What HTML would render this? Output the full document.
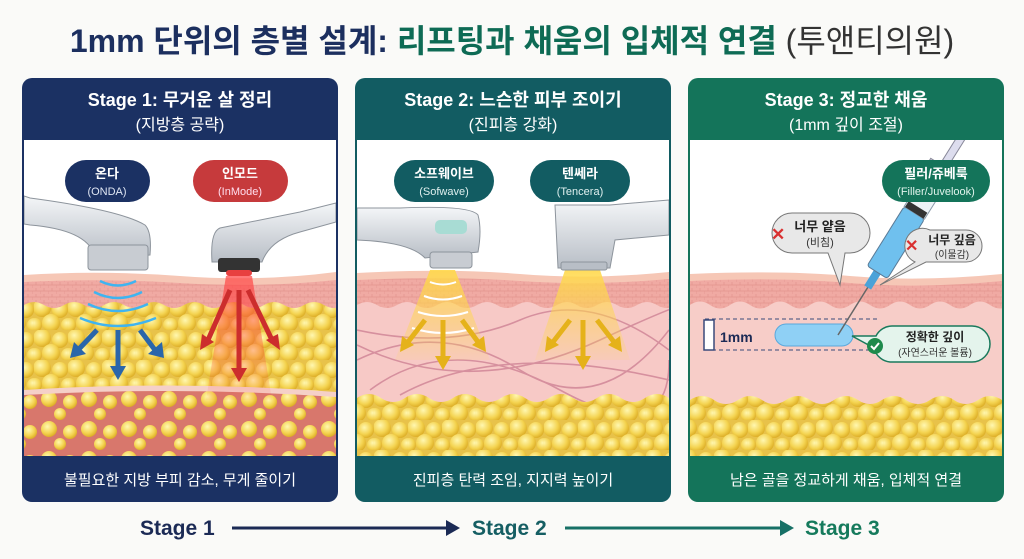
<!DOCTYPE html>
<html><head><meta charset="utf-8"><style>
html,body{margin:0;padding:0;background:#fafaf8;}
svg{display:block}
text{font-family:"Liberation Sans","Noto Sans CJK KR",sans-serif;}
</style></head><body>
<svg width="1024" height="559" viewBox="0 0 1024 559" xmlns="http://www.w3.org/2000/svg">
<defs>
<radialGradient id="fg" cx="0.4" cy="0.35" r="0.7"><stop offset="0" stop-color="#fff7b0"/><stop offset="0.6" stop-color="#f4d350"/><stop offset="1" stop-color="#d9a820"/></radialGradient>
<pattern id="fat" width="34" height="30" patternUnits="userSpaceOnUse">
<rect width="34" height="30" fill="#e8c24a"/>
<circle cx="8" cy="8" r="9" fill="url(#fg)"/><circle cx="26" cy="10" r="8" fill="url(#fg)"/><circle cx="17" cy="23" r="9" fill="url(#fg)"/><circle cx="1" cy="25" r="7" fill="url(#fg)"/><circle cx="34" cy="25" r="7" fill="url(#fg)"/>
</pattern>
<pattern id="fat2" width="40" height="30" patternUnits="userSpaceOnUse">
<rect width="40" height="30" fill="#d8776c"/>
<circle cx="9" cy="9" r="8" fill="url(#fg)"/><circle cx="30" cy="12" r="7" fill="url(#fg)"/><circle cx="20" cy="24" r="6" fill="url(#fg)"/>
</pattern>
<pattern id="cell" width="8" height="6" patternUnits="userSpaceOnUse"><rect width="8" height="6" fill="#f0aaa3"/><path d="M0 3h8M4 0v3M0 3v3" stroke="#e3958e" stroke-width="0.7"/></pattern>
<linearGradient id="dev" x1="0" y1="0" x2="0" y2="1"><stop offset="0" stop-color="#f4f6f8"/><stop offset="1" stop-color="#b8bec6"/></linearGradient>
<linearGradient id="beamY" x1="0" y1="0" x2="0" y2="1"><stop offset="0" stop-color="#ffd84a" stop-opacity="0.9"/><stop offset="1" stop-color="#ffd84a" stop-opacity="0.1"/></linearGradient>
<linearGradient id="beamR" x1="0" y1="0" x2="0" y2="1"><stop offset="0" stop-color="#ff4040" stop-opacity="0.7"/><stop offset="1" stop-color="#ff4040" stop-opacity="0.05"/></linearGradient>
<clipPath id="c1"><rect x="24" y="140" width="312" height="316"/></clipPath>
<clipPath id="c2"><rect x="357" y="140" width="312" height="316"/></clipPath>
<clipPath id="c3"><rect x="690" y="140" width="312" height="316"/></clipPath>
</defs>

<text x="512" y="52" text-anchor="middle" font-size="32" font-weight="bold"><tspan fill="#1c2f5f">1mm 단위의 층별 설계: </tspan><tspan fill="#0e6b55">리프팅과 채움의 입체적 연결 </tspan><tspan fill="#333" font-weight="normal">(투앤티의원)</tspan></text>

<!-- Panel 1 -->
<rect x="22" y="78" width="316" height="424" rx="10" fill="#1b3163"/>
<rect x="24" y="140" width="312" height="316" fill="#fff"/>
<g clip-path="url(#c1)">
<path d="M24 275 Q100 270 180 276 T336 272 V460 H24Z" fill="#f6c7b6"/>
<path d="M24 282 Q100 278 180 283 T336 280 V460 H24Z" fill="url(#cell)"/>
<path d="M24 305 q10 -6 20 0 t20 0 t20 0 t20 0 t20 0 t20 0 t20 0 t20 0 t20 0 t20 0 t20 0 t20 0 t20 0 t20 0 t20 0 t20 0 V460 H24Z" fill="url(#fat)"/>
<path d="M24 390 Q180 380 336 392 V460 H24Z" fill="#f5d0c8"/>
<path d="M24 395 Q180 386 336 397 V460 H24Z" fill="url(#fat2)"/>
<path d="M24 196 L30 198 Q120 210 145 225 Q152 232 150 255 L95 258 Q90 230 30 225 L24 224Z" fill="url(#dev)" stroke="#8d949c"/>
<rect x="88" y="245" width="60" height="25" rx="3" fill="#c8ccd2" stroke="#8d949c"/>
<g fill="none" stroke="#3fb4f0" stroke-width="2.5"><path d="M100 281 Q118 290 136 281"/><path d="M94 292 Q118 304 142 292"/><path d="M88 304 Q118 318 148 304"/><path d="M80 318 Q118 334 156 318"/></g>
<g stroke="#2a66aa" stroke-width="5" fill="#2a66aa"><line x1="97" y1="330" x2="78" y2="350"/><line x1="118" y1="330" x2="118" y2="370"/><line x1="140" y1="330" x2="155" y2="350"/></g>
<g fill="#2a66aa"><path d="M70 358 l4 -16 12 12z"/><path d="M110 366 h16 l-8 14z"/><path d="M148 354 l14 -12 2 16z"/></g>
<path d="M336 203 L300 212 Q250 222 220 228 Q210 232 212 262 L262 262 Q270 240 300 232 L336 222Z" fill="url(#dev)" stroke="#8d949c"/>
<rect x="218" y="258" width="42" height="14" rx="3" fill="#333"/>
<rect x="226" y="270" width="26" height="6" rx="3" fill="#e84040"/>
<path d="M226 276 L206 400 L272 400 L252 276Z" fill="url(#beamR)"/>
<g stroke="#cc2d2d" stroke-width="5"><line x1="230" y1="290" x2="208" y2="340"/><line x1="239" y1="290" x2="239" y2="370"/><line x1="248" y1="290" x2="272" y2="340"/></g>
<g fill="#cc2d2d"><path d="M200 350 l2 -16 12 8z"/><path d="M231 368 h16 l-8 14z"/><path d="M266 340 l12 -6 2 16z"/></g>
</g>
<rect x="65" y="160" width="85" height="42" rx="21" fill="#1b3163"/>
<text x="107" y="178" text-anchor="middle" font-size="13" font-weight="bold" fill="#fff">온다</text>
<text x="107" y="195" text-anchor="middle" font-size="11" fill="#dfe6f3">(ONDA)</text>
<rect x="193" y="160" width="95" height="42" rx="21" fill="#c63a3c"/>
<text x="240" y="178" text-anchor="middle" font-size="13" font-weight="bold" fill="#fff">인모드</text>
<text x="240" y="195" text-anchor="middle" font-size="11" fill="#fde">(InMode)</text>
<text x="180" y="106" text-anchor="middle" font-size="18" font-weight="bold" fill="#fff">Stage 1: 무거운 살 정리</text>
<text x="180" y="130" text-anchor="middle" font-size="16" fill="#fff">(지방층 공략)</text>
<text x="180" y="485" text-anchor="middle" font-size="15" fill="#fff">불필요한 지방 부피 감소, 무게 줄이기</text>

<!-- Panel 2 -->
<rect x="355" y="78" width="316" height="424" rx="10" fill="#125c62"/>
<rect x="357" y="140" width="312" height="316" fill="#fff"/>
<g clip-path="url(#c2)">
<path d="M357 273 Q450 268 520 274 T669 272 V460 H357Z" fill="#f6c7b6"/>
<path d="M357 280 Q450 276 520 281 T669 279 V460 H357Z" fill="url(#cell)"/>
<path d="M357 305 q10 -6 20 0 t20 0 t20 0 t20 0 t20 0 t20 0 t20 0 t20 0 t20 0 t20 0 t20 0 t20 0 t20 0 t20 0 t20 0 t20 0 V460 H357Z" fill="#f7c9c6"/>
<g fill="none" stroke="#c9788e" stroke-width="1.6" opacity="0.7">
<path d="M357 330 Q450 350 520 320 T669 350"/><path d="M357 360 Q440 320 520 370 T669 330"/><path d="M370 390 Q450 330 560 390 T669 360"/><path d="M357 345 Q470 400 600 340 T669 320"/><path d="M400 395 Q500 340 669 380"/></g>
<path d="M357 398 q12 -8 24 0 t24 0 t24 0 t24 0 t24 0 t24 0 t24 0 t24 0 t24 0 t24 0 t24 0 t24 0 t24 0 t24 0 V460 H357Z" fill="url(#fat)"/>
<path d="M430 270 L395 360 L490 360 L455 270Z" fill="url(#beamY)"/>
<path d="M565 270 L535 360 L630 360 L600 270Z" fill="url(#beamY)"/>
<g fill="none" stroke="#fff" stroke-width="2"><path d="M430 282 Q443 287 456 282"/><path d="M424 296 Q443 303 462 296"/><path d="M418 312 Q443 320 468 312"/><path d="M412 328 Q443 338 474 328"/></g>
<g stroke="#e5b21a" stroke-width="5"><line x1="425" y1="320" x2="408" y2="342"/><line x1="443" y1="320" x2="443" y2="358"/><line x1="462" y1="320" x2="478" y2="342"/><line x1="570" y1="320" x2="553" y2="342"/><line x1="583" y1="320" x2="583" y2="358"/><line x1="597" y1="320" x2="614" y2="342"/></g>
<g fill="#e5b21a"><path d="M400 352 l2 -16 12 9z"/><path d="M435 356 h16 l-8 14z"/><path d="M486 352 l-2 -16 -12 9z"/><path d="M545 352 l2 -16 12 9z"/><path d="M575 356 h16 l-8 14z"/><path d="M622 352 l-2 -16 -12 9z"/></g>
<path d="M357 208 L400 208 Q470 205 478 215 Q482 230 478 252 L425 258 Q410 242 357 240Z" fill="url(#dev)" stroke="#8d949c"/>
<rect x="435" y="220" width="32" height="14" rx="5" fill="#a8dcd4"/>
<rect x="430" y="252" width="42" height="16" rx="3" fill="#c8ccd2" stroke="#8d949c"/>
<path d="M555 205 L610 205 L669 200 V235 L615 240 L610 268 H558Z" fill="url(#dev)" stroke="#8d949c"/>
<rect x="561" y="262" width="46" height="8" rx="2" fill="#b8bec6" stroke="#8d949c"/>
</g>
<rect x="394" y="160" width="100" height="42" rx="21" fill="#125c62"/>
<text x="444" y="178" text-anchor="middle" font-size="13" font-weight="bold" fill="#fff">소프웨이브</text>
<text x="444" y="195" text-anchor="middle" font-size="11" fill="#e0f0ef">(Sofwave)</text>
<rect x="530" y="160" width="100" height="42" rx="21" fill="#125c62"/>
<text x="580" y="178" text-anchor="middle" font-size="13" font-weight="bold" fill="#fff">텐쎄라</text>
<text x="580" y="195" text-anchor="middle" font-size="11" fill="#e0f0ef">(Tencera)</text>
<text x="513" y="106" text-anchor="middle" font-size="18" font-weight="bold" fill="#fff">Stage 2: 느슨한 피부 조이기</text>
<text x="513" y="130" text-anchor="middle" font-size="16" fill="#fff">(진피층 강화)</text>
<text x="513" y="485" text-anchor="middle" font-size="15" fill="#fff">진피층 탄력 조임, 지지력 높이기</text>

<!-- Panel 3 -->
<rect x="688" y="78" width="316" height="424" rx="10" fill="#14745a"/>
<rect x="690" y="140" width="312" height="316" fill="#fff"/>
<g clip-path="url(#c3)">
<path d="M690 274 Q780 270 850 276 T1002 274 V460 H690Z" fill="#f6c7b6"/>
<path d="M690 281 Q780 277 850 283 T1002 281 V460 H690Z" fill="url(#cell)"/>
<path d="M690 305 q10 -7 20 0 t20 0 t20 0 t20 0 t20 0 t20 0 t20 0 t20 0 t20 0 t20 0 t20 0 t20 0 t20 0 t20 0 t20 0 t20 0 V460 H690Z" fill="#f7cdc8"/>
<path d="M690 400 q12 -8 24 0 t24 0 t24 0 t24 0 t24 0 t24 0 t24 0 t24 0 t24 0 t24 0 t24 0 t24 0 t24 0 t24 0 V460 H690Z" fill="url(#fat)"/>
<line x1="705" y1="319" x2="880" y2="319" stroke="#3a4a7a" stroke-dasharray="4 3"/>
<line x1="705" y1="350" x2="880" y2="350" stroke="#3a4a7a" stroke-dasharray="4 3"/>
<rect x="704" y="320" width="10" height="30" fill="#fff" stroke="#3a4a7a" stroke-width="1.5"/>
<rect x="775" y="324" width="78" height="22" rx="11" fill="#8fd0f5" stroke="#5aa8dc"/>
<g transform="translate(838,335) rotate(-58)">
<line x1="0" y1="0" x2="60" y2="0" stroke="#666" stroke-width="1.5"/>
<rect x="56" y="-4" width="18" height="8" fill="#4aa2d8"/>
<rect x="74" y="-12" width="70" height="24" rx="3" fill="#6fc0ee" stroke="#5a7a96"/>
<rect x="144" y="-12" width="50" height="24" fill="#eef3f7" stroke="#8a9aaa"/>
<rect x="144" y="-11" width="7" height="22" fill="#333"/>
<rect x="194" y="-15" width="5" height="30" fill="#ccd" stroke="#889"/>
<rect x="199" y="-4" width="40" height="8" fill="#dde" stroke="#889"/>
</g>
</g>
<text x="720" y="342" font-size="14" font-weight="bold" fill="#1b2a55">1mm</text>
<rect x="882" y="160" width="108" height="42" rx="21" fill="#14745a"/>
<text x="936" y="178" text-anchor="middle" font-size="13" font-weight="bold" fill="#fff">필러/쥬베룩</text>
<text x="936" y="195" text-anchor="middle" font-size="11" fill="#e0f3ec">(Filler/Juvelook)</text>
<path d="M792 213 h58 a20 20 0 0 1 0 40 h-5 L840 285 L828 253 h-36 a20 20 0 0 1 0 -40Z" fill="#e8e8e8" stroke="#777"/>
<text x="820" y="231" text-anchor="middle" font-size="13" font-weight="bold" fill="#222">너무 얕음</text>
<text x="820" y="246" text-anchor="middle" font-size="11" fill="#333">(비침)</text>
<text x="771" y="240" font-size="17" font-weight="bold" fill="#d93030">✕</text>
<path d="M930 230 h36 a16 16 0 0 1 0 32 h-40 L880 285 L915 262 a16 16 0 0 1 15 -32Z" fill="#e8e8e8" stroke="#777"/>
<text x="952" y="244" text-anchor="middle" font-size="12" font-weight="bold" fill="#222">너무 깊음</text>
<text x="952" y="258" text-anchor="middle" font-size="10" fill="#333">(이물감)</text>
<text x="905" y="251" font-size="16" font-weight="bold" fill="#d93030">✕</text>
<path d="M892 326 h80 a18 18 0 0 1 0 36 h-80 a18 18 0 0 1 -18 -14 L852 336 L876 336 a18 18 0 0 1 16 -10Z" fill="#e4f4ec" stroke="#1a7a5c" stroke-width="1.5"/>
<text x="935" y="341" text-anchor="middle" font-size="12" font-weight="bold" fill="#222">정확한 깊이</text>
<text x="935" y="356" text-anchor="middle" font-size="10" fill="#333">(자연스러운 볼륨)</text>
<circle cx="875" cy="346" r="8" fill="#1f8a4c"/><path d="M871 346 l3 3 5 -6" stroke="#fff" stroke-width="2" fill="none"/>
<text x="846" y="106" text-anchor="middle" font-size="18" font-weight="bold" fill="#fff">Stage 3: 정교한 채움</text>
<text x="846" y="130" text-anchor="middle" font-size="16" fill="#fff">(1mm 깊이 조절)</text>
<text x="846" y="485" text-anchor="middle" font-size="15" fill="#fff">남은 골을 정교하게 채움, 입체적 연결</text>

<text x="140" y="535" font-size="21" font-weight="bold" fill="#1b2a55">Stage 1</text>
<line x1="232" y1="528" x2="450" y2="528" stroke="#1b2a55" stroke-width="3"/>
<path d="M446 520 L460 528 L446 536Z" fill="#1b2a55"/>
<text x="472" y="535" font-size="21" font-weight="bold" fill="#155e63">Stage 2</text>
<line x1="565" y1="528" x2="785" y2="528" stroke="#177066" stroke-width="3"/>
<path d="M780 520 L794 528 L780 536Z" fill="#177066"/>
<text x="805" y="535" font-size="21" font-weight="bold" fill="#157a5c">Stage 3</text>
</svg>
</body></html>
